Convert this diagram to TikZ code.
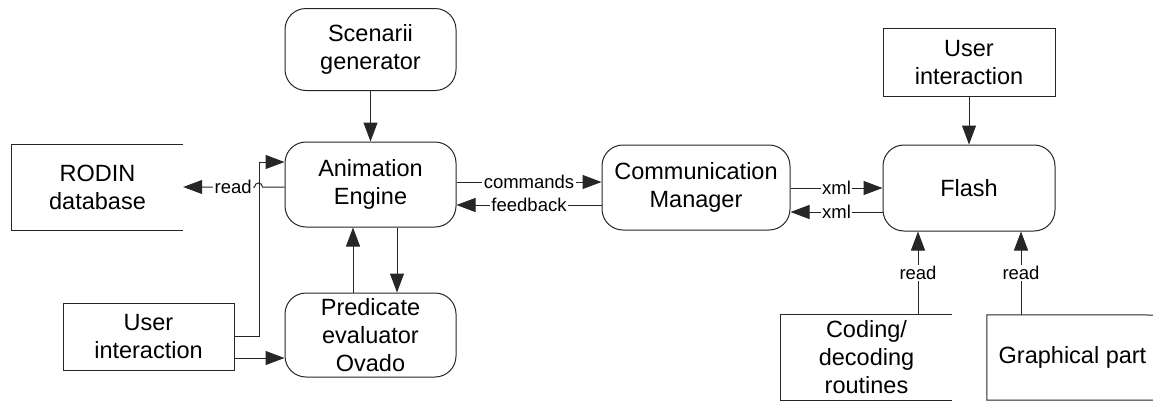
\documentclass[tikz,border=0pt]{standalone}
\usepackage{fontspec}
\setmainfont{Liberation Sans}
\usetikzlibrary{arrows.meta}
\begin{document}
\begin{tikzpicture}[x=1pt,y=-1pt,
  every node/.style={font=\fontsize{23.5}{28}\selectfont, align=center, inner sep=0pt},
  ln/.style={line width=1pt, draw=black!85},
  rbox/.style={ln, rounded corners=21pt, minimum width=171pt, minimum height=85pt},
  sbox/.style={ln, minimum width=171pt, minimum height=67pt},
  obox/.style={minimum width=171pt, minimum height=85pt},
  arr/.style={ln, -{Triangle[length=19pt,width=14pt]}},
  lbl/.style={font=\fontsize{18.5}{20}\selectfont, fill=white, inner sep=1.5pt}]
\useasboundingbox (0,0) rectangle (1153,402);

% nodes
\node[rbox, minimum height=82pt] (scen) at (370.5,49.5) {Scenarii\\generator};
\node[rbox] (anim) at (370.5,184.5) {Animation\\Engine};
\node[rbox, minimum height=84pt] (pred) at (370.5,335) {Predicate\\evaluator\\Ovado};
\node[obox] (rodin) at (97.5,187.5) {RODIN\\database};
\draw[ln] (rodin.north east) -- (rodin.north west) -- (rodin.south west) -- (rodin.south east);
\node[sbox] (uleft) at (148.5,336.5) {User\\interaction};
\node[rbox, minimum width=188pt] (cm) at (696,187.5) {Communication\\Manager};
\node[rbox, minimum width=172pt, minimum height=86pt] (flash) at (969,188) {Flash};
\node[sbox, minimum width=172pt, minimum height=68pt] (utop) at (969,62.5) {User\\interaction};
\node[obox] (coding) at (866.5,357.5) {Coding/\\decoding\\routines};
\draw[ln] (coding.north east) -- (coding.north west) -- (coding.south west) -- (coding.south east);
\node[obox] (graph) at (1072.5,357.5) {Graphical part};
\draw[ln] (1153,315) -- (graph.north west) -- (graph.south west) -- (1153,400);

% connectors
\draw[arr] (scen) -- (anim);
\draw[arr] (utop) -- (flash);
\draw[arr] ([xshift=26.5pt]anim.south) -- ([xshift=26.5pt]pred.north);
\draw[arr] ([xshift=-17.5pt]pred.north) -- ([xshift=-17.5pt]anim.south);

\coordinate (r1) at ([yshift=-2.5pt]anim.west);
\draw[arr] (r1) -- ++(-22,0) arc[start angle=0,end angle=180,radius=4pt]
  -- (rodin.east |- r1) node[lbl,pos=0.3]{read};

\coordinate (j) at (259,162);
\draw[arr] (uleft.east) -| (j) -- (anim.west |- j);
\coordinate (u2) at ([yshift=-21.5pt]uleft.east);
\draw[arr] (u2) -- (pred.west |- u2);

\coordinate (c1) at ([yshift=2.5pt]anim.east);
\draw[arr] (c1) -- (cm.west |- c1) node[lbl,midway]{commands};
\coordinate (f1) at ([yshift=-17.5pt]cm.west);
\draw[arr] (f1) -- (anim.east |- f1) node[lbl,midway]{feedback};

\coordinate (x1) at (cm.east |- 0,188);
\draw[arr] (x1) -- (flash.west |- x1) node[lbl,midway]{xml};
\coordinate (x2) at (flash.west |- 0,212);
\draw[arr] (x2) -- (cm.east |- x2) node[lbl,midway]{xml};

\coordinate (rd1) at ([xshift=51.5pt]coding.north);
\draw[arr] (rd1) -- (flash.south -| rd1) node[lbl,midway]{read};
\coordinate (rd2) at ([xshift=-51.5pt]graph.north);
\draw[arr] (rd2) -- (flash.south -| rd2) node[lbl,midway]{read};
\end{tikzpicture}
\end{document}
